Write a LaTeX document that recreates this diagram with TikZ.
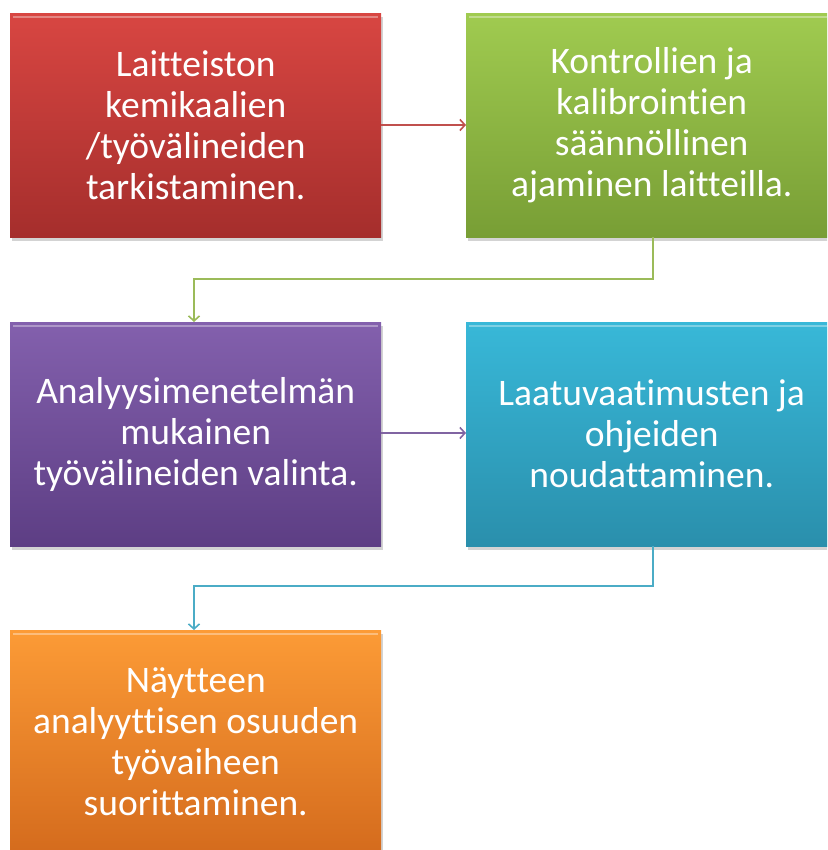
\documentclass[tikz,border=0pt]{standalone}
\usepackage{fontspec}
\setmainfont{Carlito}[Ligatures=NoCommon]
\usetikzlibrary{arrows.meta,shadows}
\definecolor{rtop}{HTML}{D84642}\definecolor{rbot}{HTML}{A52E2C}
\definecolor{gtop}{HTML}{A0CB50}\definecolor{gbot}{HTML}{789E35}
\definecolor{ptop}{HTML}{8360AD}\definecolor{pbot}{HTML}{5D3E84}
\definecolor{btop}{HTML}{38B8D8}\definecolor{bbot}{HTML}{2A8FAC}
\definecolor{otop}{HTML}{FC9B36}\definecolor{obot}{HTML}{D46B1D}
\definecolor{rline}{HTML}{C0504D}\definecolor{gline}{HTML}{9BBB59}
\definecolor{pline}{HTML}{8064A2}\definecolor{bline}{HTML}{4BACC6}
\tikzset{
  x=1pt,y=-1pt,
  box/.style={rectangle,minimum width=371pt,minimum height=224pt,inner sep=0pt,
    text=white,align=center,font=\fontsize{37.5}{41}\selectfont,
    drop shadow={shadow xshift=2pt,shadow yshift=-4pt,opacity=0.35}},
  conn/.style={line width=1.6pt,-{Straight Barb[length=5pt,width=11pt,line width=1.6pt]}},
}
\begin{document}
\begin{tikzpicture}
\useasboundingbox (0,0) rectangle (827,850);
\clip (0,0) rectangle (827,850);
\node[box,top color=rtop,bottom color=rbot,anchor=north west] (a) at (10,13)
  {Laitteiston\\kemikaalien\\/työvälineiden\\tarkistaminen.};
\node[box,top color=gtop,bottom color=gbot,anchor=north west] (b) at (466,13)
  {Kontrollien ja\\kalibrointien\\säännöllinen\\ajaminen laitteilla.};
\node[box,top color=ptop,bottom color=pbot,anchor=north west] (c) at (10,322)
  {Analyysimenetelmän\\mukainen\\työvälineiden valinta.};
\node[box,top color=btop,bottom color=bbot,anchor=north west] (d) at (466,322)
  {Laatuvaatimusten ja\\ohjeiden\\noudattaminen.};
\node[box,top color=otop,bottom color=obot,anchor=north west] (e) at (10,630)
  {Näytteen\\analyyttisen osuuden\\työvaiheen\\suorittaminen.};
% bevel highlights
\foreach \n in {a,b,c,d,e}{
  \draw[white,opacity=0.35,line width=2pt] ([xshift=3pt,yshift=-4pt]\n.north west) -- ([xshift=-3pt,yshift=-4pt]\n.north east);
}
\coordinate (ab) at (460,125);
\draw[conn,rline] (a.east |- ab) -- (b.west |- ab);
\draw[conn,pline] (c.east |- 0,433) -- (d.west |- 0,433);
\coordinate (g1) at (653,279);
\coordinate (g2) at (194,279);
\draw[conn,gline] (b.south -| g1) -- (g1) -- (g2) -- (g2 |- c.north);
\coordinate (h1) at (653,586);
\coordinate (h2) at (194,586);
\draw[conn,bline] (d.south -| h1) -- (h1) -- (h2) -- (h2 |- e.north);
\end{tikzpicture}
\end{document}
